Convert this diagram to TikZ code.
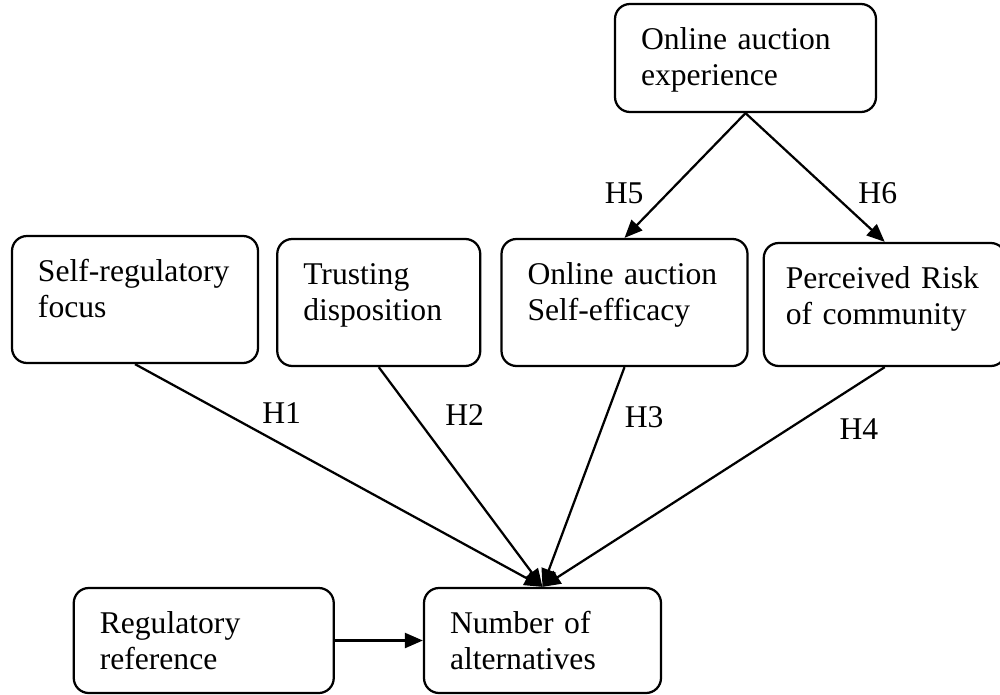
\documentclass[tikz,border=0pt]{standalone}
\usepackage{fontspec}
\setmainfont{Liberation Serif}
\usetikzlibrary{arrows.meta,positioning}

\begin{document}
\begin{tikzpicture}[
  font=\fontsize{18}{21}\selectfont,
  line width=0.045cm,
  box/.style={draw, rounded corners=0.3cm, align=left, inner xsep=0.52cm, inner ysep=0pt, text height=0.9cm, text depth=1.64cm, text width=3.88cm},
  lbl/.style={inner sep=0pt},
  >={Triangle[length=0.36cm, width=0.3cm]}
]
\useasboundingbox (0,0) rectangle (20,-13.88);
\node[box] (focus) at (2.70,-5.99) {Self-regulatory\\focus};
\node[box, text width=3.02cm, right=0.34cm of focus, yshift=-0.06cm] (trust) {Trusting\\disposition};
\node[box, right=0.38cm of trust] (efficacy) {Online auction\\Self-efficacy};
\node[box, text width=3.96cm, inner xsep=0.44cm, text depth=1.56cm, right=0.28cm of efficacy, yshift=-0.04cm] (risk) {Perceived Risk\\of community};
\node[box, text width=4.18cm, text depth=1.26cm] (exper) at (14.91,-1.16) {Online auction\\experience};
\node[box, text width=3.70cm, text depth=1.20cm] (choices) at (10.85,-12.81) {Number of\\alternatives};
\node[box, text width=4.16cm, text depth=1.20cm, left=1.76cm of choices] (refer) {Regulatory\\reference};
\draw[->] (exper.south) -- node[lbl, pos=0.64, left=0.47cm]{H5} (efficacy.north);
\draw[->] (exper.south) -- node[lbl, pos=0.62, right=0.51cm]{H6} (risk.north);
\draw[->] (focus.south) -- node[lbl, pos=0.36, above=0.39cm]{H1} (choices.north);
\draw[->] (trust.south) -- node[lbl, pos=0.22, right=0.59cm]{H2} (choices.north);
\draw[->] (efficacy.south) -- node[lbl, pos=0.23, right=0.36cm]{H3} (choices.north);
\draw[->] (risk.south) -- node[lbl, pos=0.28, right=0.99cm]{H4} (choices.north);
\draw[->] (refer) -- (choices);
\end{tikzpicture}
\end{document}
